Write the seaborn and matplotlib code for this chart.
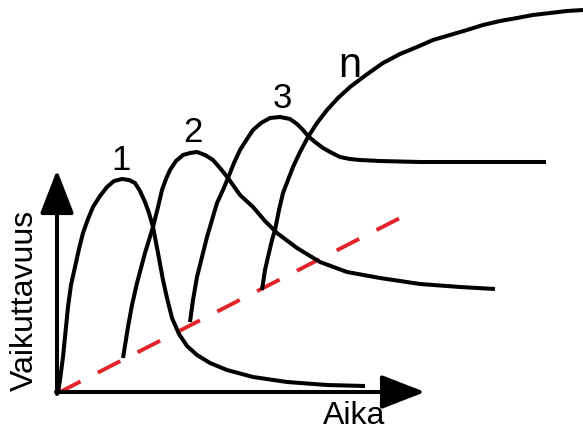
import matplotlib
matplotlib.use("Agg")
import matplotlib.pyplot as plt
import seaborn as sns
import pandas as pd

sns.set_theme(style="white")
plt.rcParams['font.family'] = ['Liberation Sans', 'DejaVu Sans']
plt.rcParams['text.color'] = 'black'

# Schematic curves, points (pixel space, y downwards)
curve1_x = [58, 60, 63, 68, 71, 75, 79, 83, 88, 93, 100, 107, 114, 122, 129, 135, 140, 145, 149,
            153, 158, 163, 167, 172, 179, 187, 197, 210, 227, 253, 287, 327, 365]
curve1_y = [392, 380, 357, 307, 285, 267, 249, 233, 219, 207, 196, 187, 181, 179, 180, 183, 191,
            202, 213, 227, 253, 280, 298, 318, 334, 346, 355, 363, 370, 377, 382, 385, 386]

curve2_x = [123, 128, 132, 137, 145, 153, 158, 162, 166, 170, 176, 183, 190, 197, 205, 213, 220,
            228, 240, 253, 265, 277, 297, 320, 347, 380, 420, 460, 495]
curve2_y = [358, 327, 305, 283, 253, 227, 207, 190, 179, 170, 161, 155, 153, 152, 155, 160, 168,
            178, 195, 207, 221, 233, 248, 262, 272, 278, 284, 287, 289]

curve3_x = [190, 193, 197, 202, 207, 212, 217, 223, 228, 234, 240, 247, 253, 261, 270, 280, 290,
            297, 303, 308, 315, 323, 332, 340, 350, 360, 380, 420, 480, 546]
curve3_y = [322, 300, 277, 257, 237, 220, 203, 190, 178, 163, 150, 139, 130, 123, 118, 117, 119,
            124, 130, 136, 142, 148, 153, 157, 159, 160, 161, 162, 162, 162]

curven_x = [262, 265, 268, 272, 275, 279, 283, 288, 293, 300, 308, 317, 327, 338, 350, 366, 383,
            400, 417, 433, 450, 467, 483, 500, 517, 533, 550, 567, 583]
curven_y = [290, 270, 257, 240, 230, 210, 193, 180, 167, 152, 137, 123, 110, 98, 87, 75, 63,
            54, 47, 40, 35, 30, 25, 21, 18, 15, 13, 11, 10]

trend_x = [58, 400]
trend_y = [393, 218]

labels = ["1", "2", "3", "n"]
label_x = [121, 193, 282, 350]
label_y = [160, 133, 98, 66]
label_size = [25, 25, 25, 30]

rows = []
for name, xs, ys in [("1", curve1_x, curve1_y), ("2", curve2_x, curve2_y),
                     ("3", curve3_x, curve3_y), ("n", curven_x, curven_y)]:
    for x, y in zip(xs, ys):
        rows.append({"curve": name, "x": x, "y": y})
df = pd.DataFrame(rows)
trend = pd.DataFrame({"x": trend_x, "y": trend_y})

fig = plt.figure(figsize=(5.83, 4.32), dpi=100)
ax = fig.add_axes([0, 0, 1, 1])
ax.set_xlim(0, 583)
ax.set_ylim(432, 0)
ax.axis("off")

sns.lineplot(data=trend, x="x", y="y", ax=ax, color="#e3232a", lw=2.8,
             sort=False, estimator=None)
ax.lines[-1].set_dashes((6.5, 5))
ax.lines[-1].set_dash_capstyle("butt")

sns.lineplot(data=df, x="x", y="y", units="curve", estimator=None, sort=False,
             color="black", lw=2.9, ax=ax, legend=False)
for ln in ax.lines[1:]:
    ln.set_solid_capstyle("butt")
    ln.set_solid_joinstyle("round")

# axes with arrows
arrow = dict(arrowstyle="-|>,head_length=27,head_width=10.5", mutation_scale=1,
             lw=2.9, color="black", shrinkA=0, shrinkB=0)
ax.annotate("", xy=(57, 170), xytext=(57, 394), arrowprops=arrow)
ax.annotate("", xy=(425, 392), xytext=(56, 392), arrowprops=arrow)

for t, x, y, s in zip(labels, label_x, label_y, label_size):
    ax.text(x, y, t, fontsize=s, ha="center", va="center", color="black")

ax.text(25, 300, "Vaikuttavuus", rotation=90, fontsize=23, ha="center", va="center",
        color="black")
ax.text(354, 416, "Aika", fontsize=23, ha="center", va="center", color="black")

fig.savefig("out.png", dpi=100)
